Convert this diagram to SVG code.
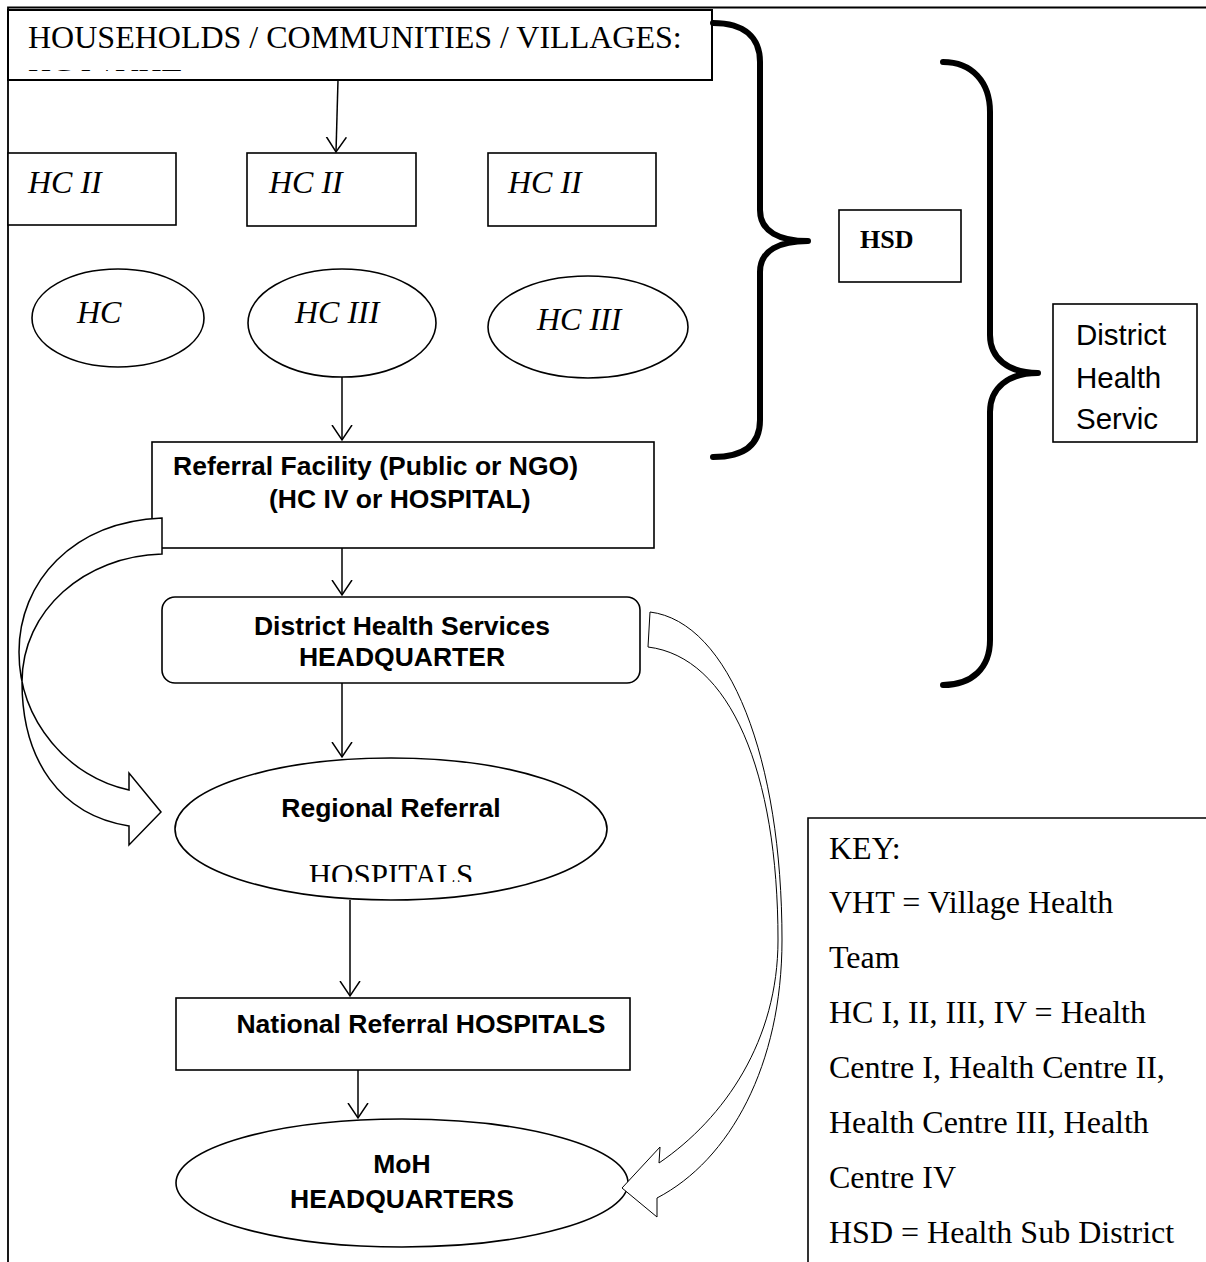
<svg xmlns="http://www.w3.org/2000/svg" width="1206" height="1262" viewBox="0 0 1206 1262">
<style>
.box{fill:#fff;stroke:#000;stroke-width:1.6}
.frame{fill:none;stroke:#000;stroke-width:1.8}
.tr{font-family:"Liberation Serif","Times New Roman",serif;font-size:31px;fill:#000}
.ti{font-family:"Liberation Serif","Times New Roman",serif;font-size:32px;font-style:italic;fill:#000}
.ab{font-family:"Liberation Sans",Arial,sans-serif;font-size:26.5px;font-weight:bold;fill:#000}
.ar{font-family:"Liberation Sans",Arial,sans-serif;font-size:29.5px;fill:#000}
.conn{fill:none;stroke:#000;stroke-width:1.5}
.brace{fill:none;stroke:#000;stroke-width:6;stroke-linecap:round;stroke-linejoin:round}
.blk{fill:#fff;stroke:#000}
</style>
<defs>
<marker id="v" viewBox="0 0 20 22" markerWidth="20" markerHeight="22" refX="15" refY="11" orient="auto" markerUnits="userSpaceOnUse">
<path d="M0,1 L15,11 L0,21" fill="none" stroke="#000" stroke-width="1.5"/>
</marker>
<clipPath id="clipHH"><rect x="8" y="10" width="704" height="61"/></clipPath>
<clipPath id="clipRR"><rect x="175" y="757" width="433" height="125"/></clipPath>
</defs>
<rect width="1206" height="1262" fill="#fff"/>
<g id="frame">
<path class="frame" d="M8,1262 L8,7.5 L1206,7.5"/>
</g>
<g id="households">
<rect class="box" x="8" y="10" width="704" height="70" style="stroke-width:2"/>
<g clip-path="url(#clipHH)">
<text class="tr" x="28" y="48" style="font-size:32px">HOUSEHOLDS / COMMUNITIES / VILLAGES:</text>
<text class="tr" x="28" y="91" style="font-size:32px">HC I / VHT</text>
</g>
</g>
<g id="hc2-a"><rect class="box" x="8" y="153" width="168" height="72"/><text class="ti" x="28" y="193">HC II</text></g>
<g id="hc2-b"><rect class="box" x="247" y="153" width="169" height="73"/><text class="ti" x="269" y="193">HC II</text></g>
<g id="hc2-c"><rect class="box" x="488" y="153" width="168" height="73"/><text class="ti" x="508" y="193">HC II</text></g>
<g id="hc-a"><ellipse class="box" cx="118" cy="318" rx="86" ry="49"/><text class="ti" x="77" y="323">HC</text></g>
<g id="hc3-b"><ellipse class="box" cx="342" cy="323" rx="94" ry="54"/><text class="ti" x="295" y="323">HC III</text></g>
<g id="hc3-c"><ellipse class="box" cx="588" cy="327" rx="100" ry="51"/><text class="ti" x="537" y="330">HC III</text></g>
<g id="referral"><rect class="box" x="152" y="442" width="502" height="106"/>
<text class="ab" x="173" y="475">Referral Facility (Public or NGO)</text>
<text class="ab" x="269" y="508">(HC IV or HOSPITAL)</text></g>
<g id="dhs-hq"><rect class="box" x="162" y="597" width="478" height="86" rx="13"/>
<text class="ab" x="402" y="635" text-anchor="middle">District Health Services</text>
<text class="ab" x="402" y="666" text-anchor="middle">HEADQUARTER</text></g>
<g id="regional"><ellipse class="box" cx="391" cy="829" rx="216" ry="71"/>
<text class="ab" x="391" y="817" text-anchor="middle">Regional Referral</text>
<g clip-path="url(#clipRR)"><text class="tr" x="391" y="886" text-anchor="middle">HOSPITALS</text></g></g>
<g id="national"><rect class="box" x="176" y="998" width="454" height="72"/>
<text class="ab" x="421" y="1033" text-anchor="middle">National Referral HOSPITALS</text></g>
<g id="moh"><ellipse class="box" cx="402" cy="1183" rx="226" ry="64"/>
<text class="ab" x="402" y="1173" text-anchor="middle">MoH</text>
<text class="ab" x="402" y="1208" text-anchor="middle">HEADQUARTERS</text></g>
<g id="hsd"><rect class="box" x="839" y="210" width="122" height="72"/>
<text class="tr" x="860" y="248" style="font-weight:bold;font-size:26px">HSD</text></g>
<g id="dhs-label"><rect class="box" x="1053" y="304" width="144" height="138"/>
<text class="ar" x="1076" y="345">District</text>
<text class="ar" x="1076" y="388">Health</text>
<text class="ar" x="1076" y="429">Servic</text></g>
<g id="key"><path class="frame" d="M808,1262 L808,818 L1206,818" style="stroke-width:1.6"/>
<text class="tr" style="font-size:32px">
<tspan x="829" y="859">KEY:</tspan>
<tspan x="829" y="913">VHT = Village Health</tspan>
<tspan x="829" y="968">Team</tspan>
<tspan x="829" y="1023">HC I, II, III, IV = Health</tspan>
<tspan x="829" y="1078">Centre I, Health Centre II,</tspan>
<tspan x="829" y="1133">Health Centre III, Health</tspan>
<tspan x="829" y="1188">Centre IV</tspan>
<tspan x="829" y="1243">HSD = Health Sub District</tspan>
</text></g>
<g id="braces">
<path class="brace" d="M713,23 C745,23 760,38 760,62 L760,210 C760,232 780,241 808,241 C780,241 760,250 760,272 L760,420 C760,444 745,457 713,457"/>
<path class="brace" d="M943,62 C972,62 990,82 990,112 L990,335 C990,358 1008,373 1038,373 C1008,373 990,388 990,412 L990,640 C990,668 972,685 943,685"/>
</g>
<g id="connectors">
<path class="conn" d="M338,80 L336,152" marker-end="url(#v)"/>
<path class="conn" d="M342,377 L342,440" marker-end="url(#v)"/>
<path class="conn" d="M342,548 L342,595" marker-end="url(#v)"/>
<path class="conn" d="M342,683 L342,757" marker-end="url(#v)"/>
<path class="conn" d="M350,900 L350,996" marker-end="url(#v)"/>
<path class="conn" d="M358,1070 L358,1118" marker-end="url(#v)"/>
<path class="blk" style="stroke-width:1.5" d="M162,518 C72,522 19,582 19,652 C19,722 70,778 129,790 L129,773 L161,812 L129,845 L129,826 C60,815 22,760 22,682 C22,610 85,556 162,554 Z"/>
<path class="blk" style="stroke-width:1" d="M650,612 C730,622 782,760 782,940 C782,1065 730,1160 657,1198 L657,1217 L622,1188 L660,1147 L659,1163 C725,1118 778,1040 778,940 C778,772 730,657 648,647 Z"/>
</g>
</svg>
